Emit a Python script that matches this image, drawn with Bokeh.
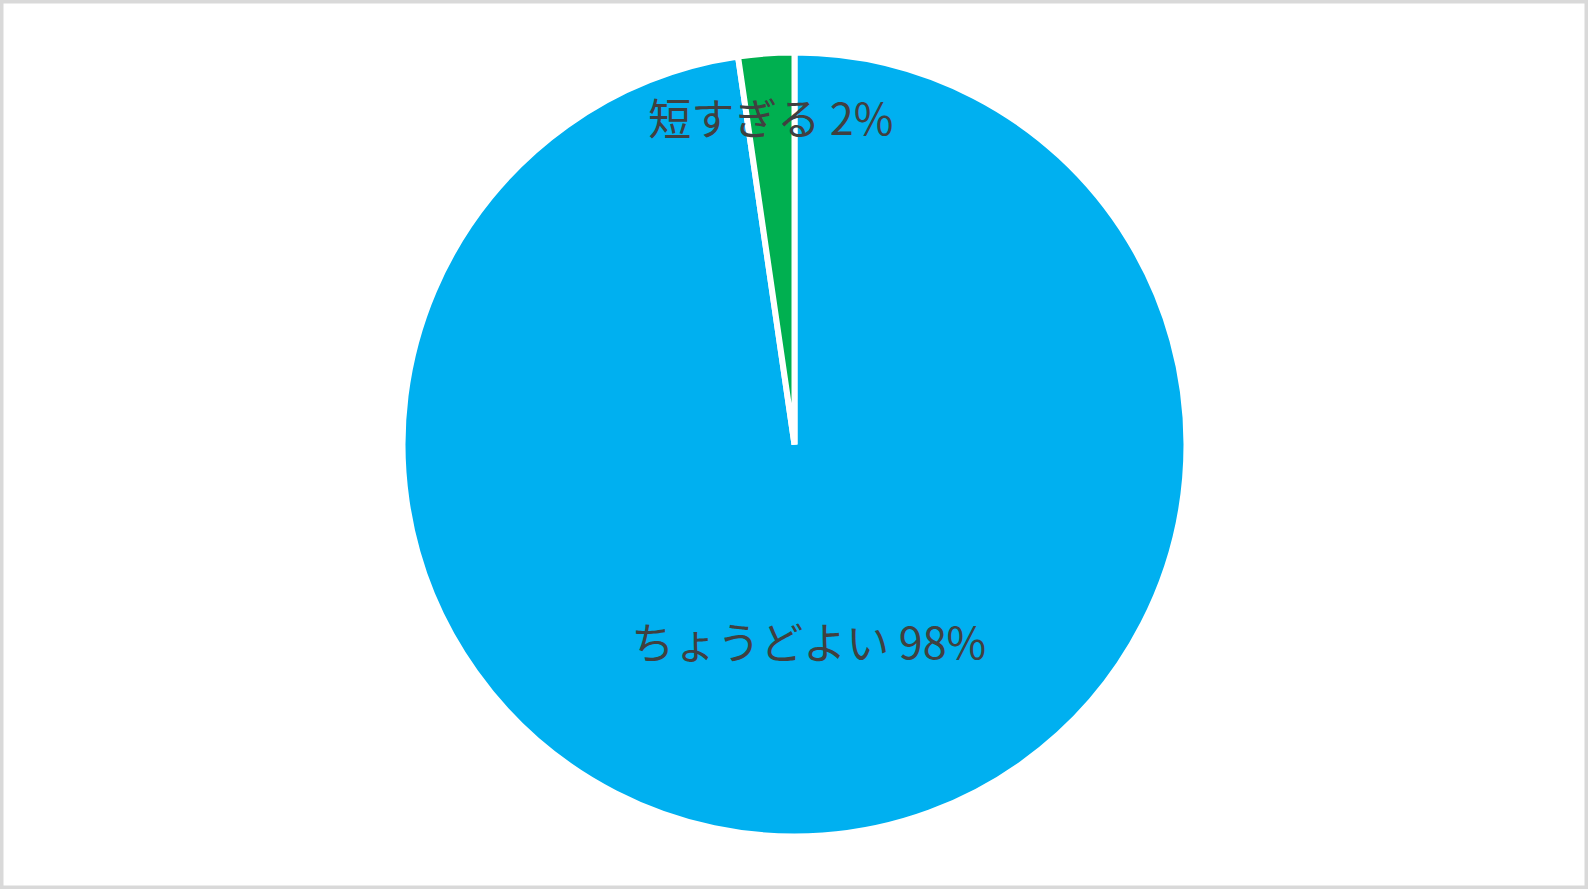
import math
from bokeh.plotting import figure
from bokeh.models import Range1d, ColumnDataSource
from bokeh.core.properties import value
from bokeh.embed import file_html
from bokeh.resources import INLINE

categories = ["ちょうどよい", "短すぎる"]
shares = [97.7, 2.3]
colors = ["#00B0F0", "#00B050"]
label_radius_frac = [0.50, 0.84]

W, H = 1588, 889
cx, cy = 794, 445
R = 392

p = figure(width=W, height=H, output_backend="svg", toolbar_location=None,
           x_range=Range1d(0, W), y_range=Range1d(0, H), min_border=0)
p.axis.visible = False
p.grid.visible = False
p.outline_line_color = "#d9d9d9"
p.outline_line_width = 6
p.background_fill_color = "white"
p.border_fill_color = "white"

total = sum(shares)
# Excel: first slice starts at 12 o'clock and runs clockwise
starts, ends, lx, ly, texts = [], [], [], [], []
cur = math.pi / 2
for cat, s, f in zip(categories, shares, label_radius_frac):
    a = 2 * math.pi * s / total
    end = cur
    start = cur - a
    starts.append(start)
    ends.append(end)
    mid = (start + end) / 2
    lx.append(cx + f * R * math.cos(mid))
    ly.append(cy + f * R * math.sin(mid))
    texts.append(f"{cat} {round(s)}%")
    cur = start

src = ColumnDataSource(dict(x=[cx] * len(shares), y=[cy] * len(shares),
                            start=starts, end=ends, color=colors))
p.wedge(x="x", y="y", radius=R, start_angle="start", end_angle="end",
        fill_color="color", line_color="white", line_width=6, source=src)

tsrc = ColumnDataSource(dict(x=lx, y=ly, t=texts))
p.text(x="x", y="y", text="t", source=tsrc, text_align="center",
       text_baseline="middle", text_font=value("Noto Sans CJK JP"),
       text_font_size="43px", text_color="#404040")

open("out.html", "w").write(file_html(p, INLINE))
